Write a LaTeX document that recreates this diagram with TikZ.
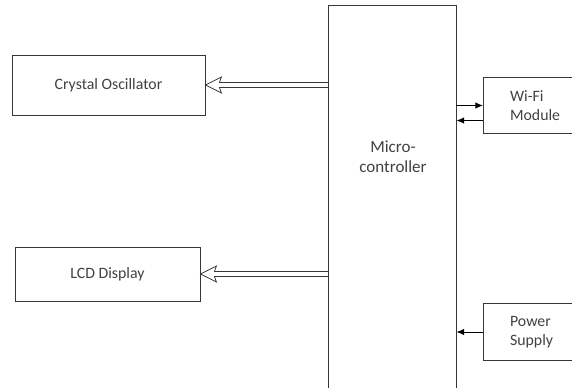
\documentclass[tikz,border=0pt]{standalone}
\usepackage{fontspec}
\setmainfont{Carlito}
\usetikzlibrary{arrows.meta,positioning,calc}
\definecolor{linecolor}{RGB}{55,55,55}
\definecolor{labelcolor}{RGB}{65,65,65}

\tikzset{
  block/.style={draw=linecolor, line width=0.75pt, text=labelcolor,
                font=\fontsize{13.5}{16}\selectfont},
  sideblock/.style={block, anchor=west, minimum width=3.6cm, minimum height=1.7cm,
                    text width=2cm, align=left},
  bigline/.style={draw=linecolor, line width=0.65pt, line join=miter},
  smallarrow/.style={draw=black, line width=0.8pt, -{Latex[length=6.5pt,width=5.5pt]}}
}

\begin{document}
\begin{tikzpicture}[x=0.03cm, y=-0.03cm]
  \useasboundingbox (0,0) rectangle (572,387);
  \clip (0,0) rectangle (572,387);

  % controller in the middle
  \node[block, minimum width=3.84cm, minimum height=12.15cm] (mcu) at (392,207.5) {};
  \node[text=labelcolor, align=center, font=\fontsize{14.5}{17}\selectfont] (mcutext) at (393,157)
       {Micro-\\controller};

  % left side
  \node[block, minimum width=5.79cm, minimum height=1.8cm] (osc) at (108.5,85) {Crystal Oscillator};
  \node[block, minimum width=5.55cm, minimum height=1.62cm] (lcd) at (107.5,274) {LCD Display};

  % right side
  \node[sideblock] (wifi) at (483,105.5) {Wi-Fi\\Module};
  \node[sideblock] (power) at (483,332) {Power\\Supply};

  % hollow double arrows to the left blocks
  \foreach \target in {osc, lcd} {
    \draw[bigline] ($(\target.east)+(14,-2.5)$) -- ($(\target.east -| mcu.west)+(0,-2.5)$);
    \draw[bigline] ($(\target.east)+(14,2.5)$) -- ($(\target.east -| mcu.west)+(0,2.5)$);
    \draw[bigline] ($(\target.east)+(14,-2.5)$) -- ($(\target.east)+(16,-8)$) -- (\target.east)
      -- ($(\target.east)+(16,8)$) -- ($(\target.east)+(14,2.5)$);
  }

  \coordinate (wifiback) at ([yshift=-0.45cm]wifi.west);
  \draw[smallarrow] (mcu.east |- wifi.west) -- (wifi.west);
  \draw[smallarrow] (wifiback) -- (wifiback -| mcu.east);
  \draw[smallarrow] (power.west) -- (power.west -| mcu.east);
\end{tikzpicture}
\end{document}
